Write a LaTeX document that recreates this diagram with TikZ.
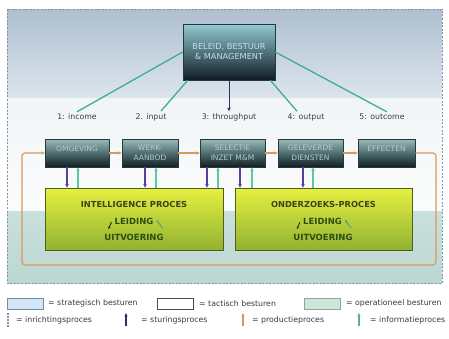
\documentclass[tikz,border=0pt]{standalone}
\usepackage{fontspec}
\setmainfont{DejaVu Sans}
\usetikzlibrary{arrows.meta,calc}
\definecolor{bandA}{HTML}{AEBFD0}
\definecolor{bandB}{HTML}{DCE5ED}
\definecolor{midA}{HTML}{F1F5F7}
\definecolor{midB}{HTML}{FBFCFC}
\definecolor{lowA}{HTML}{C9E0DC}
\definecolor{lowB}{HTML}{BCD7D2}
\definecolor{dashcol}{HTML}{8494A4}
\definecolor{belTop}{HTML}{92CAD2}
\definecolor{belMid}{HTML}{4C8090}
\definecolor{belBot}{HTML}{0E1C24}
\definecolor{belText}{HTML}{C4DEE6}
\definecolor{rowTop}{HTML}{9CBABA}
\definecolor{rowMid}{HTML}{4E6E70}
\definecolor{rowBot}{HTML}{121E22}
\definecolor{rowText}{HTML}{B4CACA}
\definecolor{rowBorder}{HTML}{283838}
\definecolor{yTop}{HTML}{E6F040}
\definecolor{yBot}{HTML}{92B232}
\definecolor{yBorder}{HTML}{4E5E22}
\definecolor{yTitle}{HTML}{3C4416}
\definecolor{yText}{HTML}{2C4E10}
\definecolor{tealLine}{HTML}{3EAE90}
\definecolor{purp}{HTML}{5A3CA0}
\definecolor{infoGreen}{HTML}{5EC8A0}
\definecolor{orangeC}{HTML}{D89A5C}
\definecolor{navyC}{HTML}{303060}
\definecolor{legBlue}{HTML}{D4E6F6}
\definecolor{legBlueB}{HTML}{7090A8}
\definecolor{legGreen}{HTML}{CCE6D8}
\definecolor{legGreenB}{HTML}{88A8A0}
\definecolor{legText}{HTML}{3A3A48}
\tikzset{
  rowbox/.style={draw=rowBorder, line width=0.6pt, top color=rowTop, bottom color=rowBot, middle color=rowMid,
    minimum height=28pt, inner sep=1pt, text=rowText, align=center,
    font=\fontsize{7.5}{9.5}\selectfont},
  ybox/.style={draw=yBorder, line width=0.8pt, top color=yTop, bottom color=yBot, minimum height=62pt},
  ytitle/.style={text=yTitle, font=\fontsize{8.3}{10}\selectfont\bfseries, inner sep=1pt},
  ytext/.style={text=yText, font=\fontsize{8.5}{10}\selectfont\bfseries, inner sep=1pt},
  lbl/.style={text=legText, font=\fontsize{7.8}{9}\selectfont, inner sep=2pt},
  gline/.style={draw=tealLine, line width=1.3pt},
  purparrow/.style={draw=purp, line width=1.1pt, -{Stealth[length=3.5pt,width=3.5pt]}},
  infoarrow/.style={draw=infoGreen, line width=1.1pt, -{Stealth[length=3.5pt,width=3.5pt]}},
  orarrow/.style={draw=orangeC, line width=1.2pt, -{Stealth[length=3.5pt,width=3.5pt]}},
  smallblack/.style={draw=black!85, line width=0.9pt, -{Stealth[length=2.5pt,width=2.5pt]}},
  smallgreen/.style={draw=infoGreen!80!black, line width=0.9pt, -{Stealth[length=2.5pt,width=2.5pt]}},
  legrect/.style={minimum width=36pt, minimum height=11pt, inner sep=0pt, line width=0.8pt},
  legtext/.style={text=legText, font=\fontsize{7.8}{9}\selectfont, inner sep=2pt, anchor=west},
}
\begin{document}
\begin{tikzpicture}[x=1pt,y=-1pt]
\useasboundingbox (0,0) rectangle (449,338);
\fill[white] (0,0) rectangle (449,338);
% background bands
\fill[top color=bandA, bottom color=bandB] (7,9) rectangle (442,98);
\fill[top color=midA, bottom color=midB] (7,98) rectangle (442,211);
\fill[top color=lowA, bottom color=lowB] (7,211) rectangle (442,283);
\draw[dashcol, line width=0.9pt, dash pattern=on 2pt off 1.6pt] (7,9) rectangle (442,283);

% top box
\node[draw=rowBorder, line width=0.6pt, top color=belTop, middle color=belMid, bottom color=belBot,
      minimum width=92pt, minimum height=56pt, text=belText, align=center,
      font=\fontsize{8.2}{10}\selectfont, inner sep=1pt] (bel) at (229,52) {BELEID, BESTUUR\\\& MANAGEMENT};

% phase labels
\node[lbl] (inc) at (77,117) {1: income};
\node[lbl] (inp) at (151,117) {2. input};
\node[lbl] (thr) at (229,117) {3: throughput};
\node[lbl] (outp) at (306,117) {4: output};
\node[lbl] (outc) at (382,117) {5: outcome};

\draw[gline] (bel.west) -- (inc.north);
\draw[gline] ([xshift=5pt]bel.south west) -- ([xshift=10pt]inp.north);
\draw[gline] ([xshift=-5pt]bel.south east) -- ([xshift=-9pt]outp.north);
\draw[gline] (bel.east) -- ([xshift=5pt]outc.north);
\draw[draw=navyC, line width=1pt, -{Stealth[length=3.5pt,width=3.5pt]}] (bel.south) -- (thr.north);

% row boxes
\node[rowbox, minimum width=64pt] (omg) at (77,153) {OMGEVING\\\phantom{A}};
\node[rowbox, minimum width=56pt] (werk) at (150,153) {WERK-\\AANBOD};
\node[rowbox, minimum width=65pt] (sel) at (232.5,153) {SELECTIE\\INZET M\&M};
\node[rowbox, minimum width=65pt] (gel) at (310.5,153) {GELEVERDE\\DIENSTEN};
\node[rowbox, minimum width=57pt] (eff) at (386.5,153) {EFFECTEN\\\phantom{A}};

% orange flow
\draw[orarrow] (omg.east) -- (werk.west);
\draw[orarrow] (werk.east) -- (sel.west);
\draw[orarrow] (sel.east) -- (gel.west);
\draw[orarrow] (gel.east) -- (eff.west);
\coordinate (orR) at (436,265);
\coordinate (orL) at (22,265);
\draw[orarrow, rounded corners=3pt] (eff.east) -| (orR) -- (orL) |- (omg.west);

% process boxes
\node[ybox, minimum width=178pt] (intel) at (134,219) {};
\node[ybox, minimum width=177pt] (ond) at (323.5,219) {};
\node[ytitle] (intelT) at (134,204) {INTELLIGENCE PROCES};
\node[ytext] (intelL) at (134,221) {LEIDING};
\node[ytext] (intelU) at (134,237.5) {UITVOERING};
\node[ytitle] (ondT) at (323.5,204) {ONDERZOEKS-PROCES};
\node[ytext] (ondL) at (322.5,221) {LEIDING};
\node[ytext] (ondU) at (323,237.5) {UITVOERING};

\draw[smallblack] ([xshift=-2pt,yshift=-1pt]intelL.west) -- ([xshift=-5pt,yshift=-8pt]intelL.west);
\draw[smallgreen] ([xshift=8pt,yshift=-7pt]intelL.east) -- ([xshift=2pt,yshift=1pt]intelL.east);
\draw[smallblack] ([xshift=-2pt,yshift=-1pt]ondL.west) -- ([xshift=-5pt,yshift=-8pt]ondL.west);
\draw[smallgreen] ([xshift=8pt,yshift=-7pt]ondL.east) -- ([xshift=2pt,yshift=1pt]ondL.east);

% vertical arrows between rows
\draw[purparrow] ([xshift=-10pt]omg.south) -- ([xshift=-10pt]omg.south |- intel.north);
\draw[infoarrow] ([xshift=1pt]omg.south |- intel.north) -- ([xshift=1pt]omg.south);
\draw[purparrow] ([xshift=-5pt]werk.south) -- ([xshift=-5pt]werk.south |- intel.north);
\draw[infoarrow] ([xshift=6pt]werk.south |- intel.north) -- ([xshift=6pt]werk.south);
\draw[purparrow] ([xshift=-25.5pt]sel.south) -- ([xshift=-25.5pt]sel.south |- intel.north);
\draw[infoarrow] ([xshift=-14.5pt]sel.south |- intel.north) -- ([xshift=-14.5pt]sel.south);
\draw[purparrow] ([xshift=7.5pt]sel.south) -- ([xshift=7.5pt]sel.south |- ond.north);
\draw[infoarrow] ([xshift=19.5pt]sel.south |- ond.north) -- ([xshift=19.5pt]sel.south);
\draw[purparrow] ([xshift=-7.5pt]gel.south) -- ([xshift=-7.5pt]gel.south |- ond.north);
\draw[infoarrow] ([xshift=2.5pt]gel.south |- ond.north) -- ([xshift=2.5pt]gel.south);

% legend row 1
\node[legrect, draw=legBlueB, fill=legBlue] (lgA) at (25,303.5) {};
\node[legtext] (lgAt) at (46,303.5) {= strategisch besturen};
\node[legrect, draw=black!70, fill=white] (lgB) at (175,303.5) {};
\node[legtext] (lgBt) at (197,303.5) {= tactisch besturen};
\node[legrect, draw=legGreenB, fill=legGreen] (lgC) at (322.5,303.5) {};
\node[legtext] (lgCt) at (344,303.5) {= operationeel besturen};

% legend row 2
\coordinate (d1) at (8,313);
\coordinate (d2) at (8,328);
\draw[dashcol, line width=1.2pt, dash pattern=on 1.5pt off 1.5pt] (d1) -- (d2);
\node[legtext] (lgDt) at (14,320) {= inrichtingsproces};
\coordinate (s1) at (126,326);
\coordinate (s2) at (126,313);
\draw[draw=navyC, line width=1.1pt, -{Stealth[length=3.5pt,width=3pt]}] (s1) -- (s2);
\node[legtext] (lgEt) at (139,320) {= sturingsproces};
\coordinate (o1) at (243,326);
\coordinate (o2) at (243,313);
\draw[draw=orangeC, line width=1.1pt, -{Stealth[length=3.5pt,width=3pt]}] (o1) -- (o2);
\node[legtext] (lgFt) at (250,320) {= productieproces};
\coordinate (g1) at (359,326);
\coordinate (g2) at (359,313);
\draw[draw=infoGreen!90!black, line width=1.1pt, -{Stealth[length=3.5pt,width=3pt]}] (g1) -- (g2);
\node[legtext] (lgGt) at (368,320) {= informatieproces};
\end{tikzpicture}
\end{document}
